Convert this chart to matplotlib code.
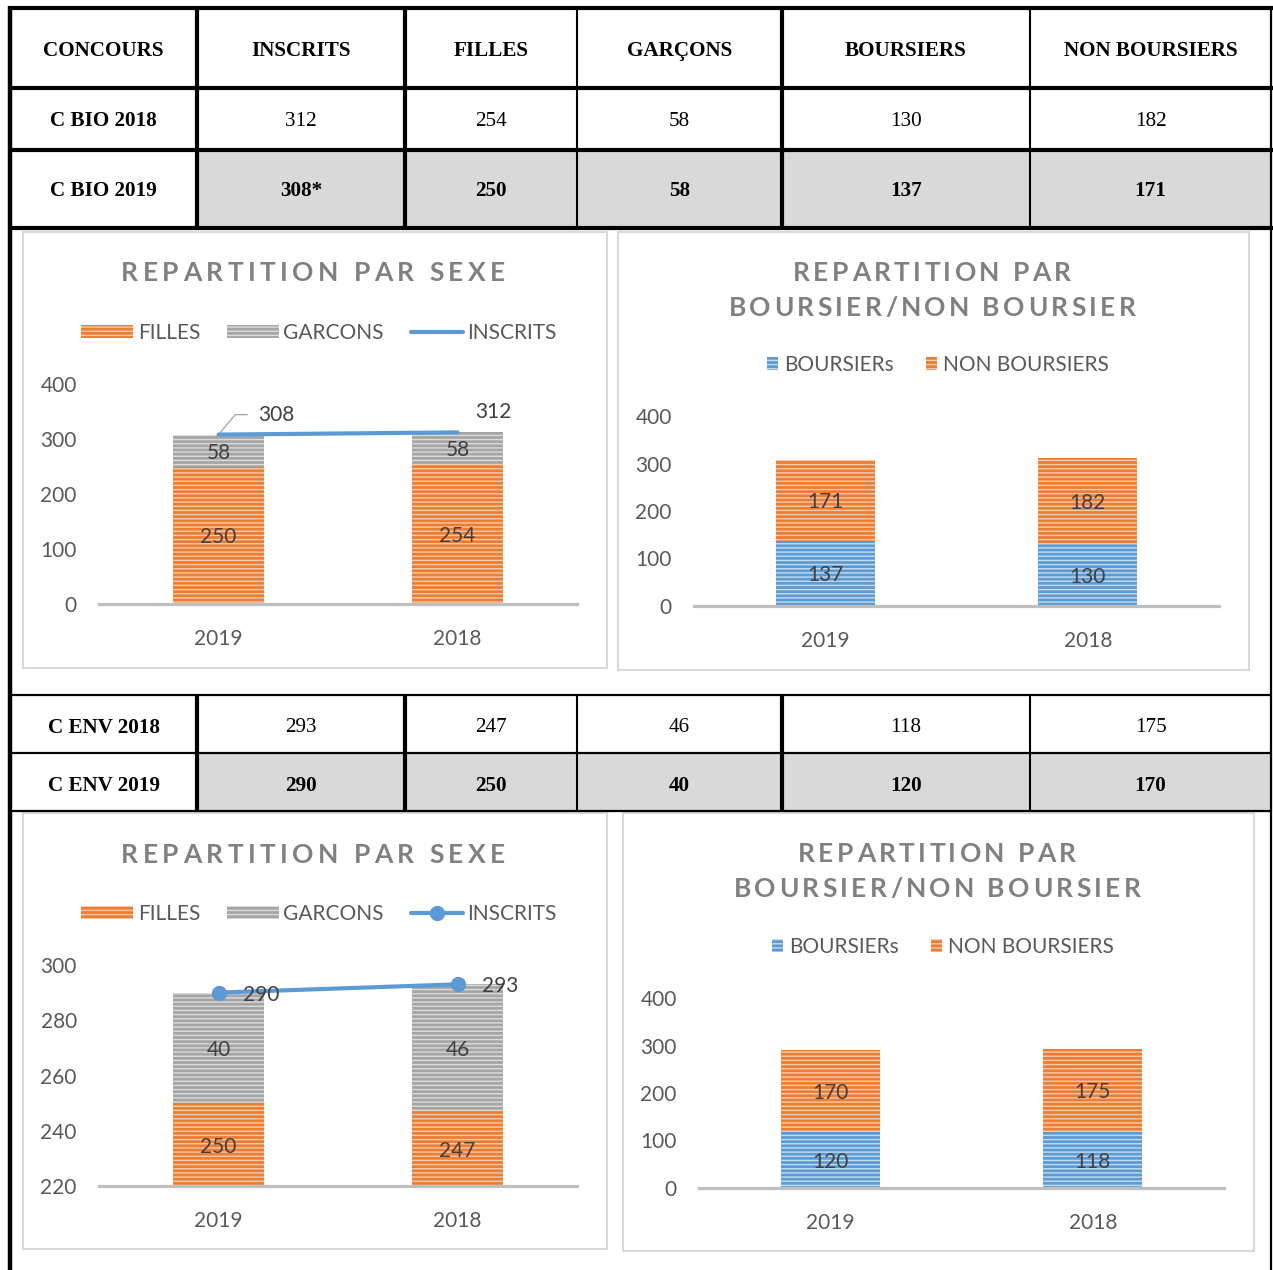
import numpy as np
import matplotlib
matplotlib.use("Agg")
import matplotlib.pyplot as plt
from matplotlib.patches import Rectangle

# ---- data ----
annees = ["2019", "2018"]

bio_inscrits = [308, 312]
bio_filles = [250, 254]
bio_garcons = [58, 58]
bio_boursiers = [137, 130]
bio_non_boursiers = [171, 182]

env_inscrits = [290, 293]
env_filles = [250, 247]
env_garcons = [40, 46]
env_boursiers = [120, 118]
env_non_boursiers = [170, 175]

entetes = ["CONCOURS", "INSCRITS", "FILLES", "GARÇONS", "BOURSIERS", "NON BOURSIERS"]
legende_sexe = ["FILLES", "GARCONS", "INSCRITS"]
legende_bourse = ["BOURSIERs", "NON BOURSIERS"]

# ---- style ----
W, H = 1273, 1270
ORANGE, ORANGE_CL = "#ED7D31", "#F8CBAD"
GRIS, GRIS_CL = "#A5A5A5", "#DCDCDC"
BLEU, BLEU_CL = "#5B9BD5", "#C5DCF0"
TXT, TXT_FONCE, TITRE = "#595959", "#404040", "#808080"
FS = 15
FS_TAB = 15.2
POLICE = ["Lato", "DejaVu Sans"]
SERIF = ["Liberation Serif", "DejaVu Serif"]

plt.rcParams["font.family"] = POLICE
plt.rcParams["hatch.linewidth"] = 1.0

fig = plt.figure(figsize=(W / 100, H / 100), dpi=100)
bg = fig.add_axes([0, 0, 1, 1])
bg.set_xlim(0, W)
bg.set_ylim(H, 0)
bg.axis("off")


def axes_px(gauche, haut, droite, bas):
    return fig.add_axes([gauche / W, 1 - bas / H, (droite - gauche) / W, (bas - haut) / H],
                        facecolor="none")


def trait(x0, y0, x1, y1, lw):
    bg.plot([x0, x1], [y0, y1], color="black", lw=lw, solid_capstyle="butt", zorder=5)


# ---- tables ----
cols = [10, 197, 405, 577, 782, 1030, 1271]
epais = [True, True, True, False, True, False, True]
centres = [(a + b) / 2 for a, b in zip(cols[:-1], cols[1:])]


def ligne_tableau(y, nom, valeurs, gras):
    bg.text(centres[0], y, nom, ha="center", va="center_baseline", family=SERIF,
            fontsize=FS_TAB, fontweight="bold")
    for cx, v in zip(centres[1:], valeurs):
        bg.text(cx, y, v, ha="center", va="center_baseline", family=SERIF, fontsize=FS_TAB,
                fontweight="bold" if gras else "normal")


# BIO table
bg.add_patch(Rectangle((cols[1], 150), cols[-1] - cols[1], 78, color="#D9D9D9", zorder=1))
for y in [8, 88, 150, 228]:
    trait(8, y, W, y, 3.0)
for x, e in zip(cols[1:-1], epais[1:-1]):
    trait(x, 8, x, 228, 3.0 if e else 1.5)
for cx, t in zip(centres, entetes):
    bg.text(cx, 48.5, t, ha="center", va="center_baseline", family=SERIF, fontsize=FS_TAB,
            fontweight="bold")
ligne_tableau(118.5, "C BIO 2018",
              [str(bio_inscrits[1]), str(bio_filles[1]), str(bio_garcons[1]),
               str(bio_boursiers[1]), str(bio_non_boursiers[1])], False)
ligne_tableau(188.5, "C BIO 2019",
              [str(bio_inscrits[0]) + "*", str(bio_filles[0]), str(bio_garcons[0]),
               str(bio_boursiers[0]), str(bio_non_boursiers[0])], True)

# ENV table
bg.add_patch(Rectangle((cols[1], 753), cols[-1] - cols[1], 58, color="#D9D9D9", zorder=1))
for y in [695, 753, 811]:
    trait(10, y, W - 2, y, 1.6)
for x, e in zip(cols[1:-1], epais[1:-1]):
    trait(x, 695, x, 811, 3.0 if e else 1.5)
ligne_tableau(725.5, "C ENV 2018",
              [str(env_inscrits[1]), str(env_filles[1]), str(env_garcons[1]),
               str(env_boursiers[1]), str(env_non_boursiers[1])], False)
ligne_tableau(783.5, "C ENV 2019",
              [str(env_inscrits[0]), str(env_filles[0]), str(env_garcons[0]),
               str(env_boursiers[0]), str(env_non_boursiers[0])], True)

# outer borders
trait(9.5, 6, 9.5, H, 3.2)
trait(1271, 6, 1271, H, 1.6)

# chart frames
for (x0, y0, x1, y1) in [(23, 232, 607, 668), (618, 232, 1249, 670),
                         (23, 813, 607, 1249), (623, 813, 1254, 1251)]:
    bg.add_patch(Rectangle((x0, y0), x1 - x0, y1 - y0, facecolor="white",
                           edgecolor="#D9D9D9", lw=1.5, zorder=2))


def titre_espace(texte, cx, cy, largeur):
    r = fig.canvas.get_renderer()
    style = dict(fontsize=19, fontweight="bold", color=TITRE, va="center_baseline", ha="left")
    larg = []
    for c in texte:
        t = bg.text(0, 0, c if c != " " else "n", **style)
        w = t.get_window_extent(r).width
        larg.append(w * 0.4 if c == " " else w)
        t.remove()
    pas = (largeur - sum(larg)) / (len(texte) - 1)
    x = cx - largeur / 2
    for c, w in zip(texte, larg):
        if c != " ":
            bg.text(x, cy, c, zorder=6, **style)
        x += w + pas


def habiller(ax, ylim, yticks):
    ax.set_xlim(-0.5, 1.5)
    ax.set_ylim(*ylim)
    ax.set_yticks(yticks)
    ax.set_xticks(np.arange(len(annees)), annees)
    for s in ["top", "right", "left"]:
        ax.spines[s].set_visible(False)
    ax.spines["bottom"].set_color("#BFBFBF")
    ax.spines["bottom"].set_linewidth(2.3)
    ax.spines["bottom"].set_zorder(4)
    ax.tick_params(axis="both", length=0, labelsize=FS, labelcolor=TXT)
    ax.tick_params(axis="y", pad=16)
    ax.tick_params(axis="x", pad=18)


def etiquettes(ax, bas, hauts, ymin):
    for i, (b, h) in enumerate(zip(bas, hauts)):
        lo = max(b, ymin)
        ax.text(i, (lo + b + h) / 2, str(h), ha="center", va="center_baseline",
                fontsize=FS, color=TXT_FONCE, zorder=5)


def graphe_sexe(rect, filles, garcons, inscrits, ylim, yticks, marqueur, leg_xy, titre_xy):
    ax = axes_px(*rect)
    x = np.arange(len(annees))
    b1 = ax.bar(x, filles, 0.377, color=ORANGE, edgecolor=ORANGE_CL, hatch="----", lw=0)
    b2 = ax.bar(x, garcons, 0.377, bottom=filles, color=GRIS, edgecolor=GRIS_CL,
                hatch="----", lw=0)
    ln, = ax.plot(x, inscrits, color=BLEU, lw=3, marker=marqueur, ms=10,
                  solid_capstyle="round", zorder=4)
    habiller(ax, ylim, yticks)
    etiquettes(ax, [0, 0], filles, ylim[0])
    etiquettes(ax, filles, garcons, ylim[0])
    ax.legend([b1, b2, ln], legende_sexe, loc="center", bbox_to_anchor=leg_xy,
              bbox_transform=bg.transData, ncol=3, frameon=False, fontsize=FS,
              labelcolor=TXT, handlelength=2.5, handleheight=0.55,
              handletextpad=0.2, columnspacing=1.3)
    titre_espace("REPARTITION PAR SEXE", titre_xy[0], titre_xy[1], 384)
    return ax


def graphe_bourse(rect, boursiers, non_boursiers, leg_xy, titre_xy):
    ax = axes_px(*rect)
    x = np.arange(len(annees))
    b1 = ax.bar(x, boursiers, 0.377, color=BLEU, edgecolor=BLEU_CL, hatch="----", lw=0)
    b2 = ax.bar(x, non_boursiers, 0.377, bottom=boursiers, color=ORANGE,
                edgecolor=ORANGE_CL, hatch="----", lw=0)
    habiller(ax, (0, 400), [0, 100, 200, 300, 400])
    etiquettes(ax, [0, 0], boursiers, 0)
    etiquettes(ax, boursiers, non_boursiers, 0)
    ax.legend([b1, b2], legende_bourse, loc="center", bbox_to_anchor=leg_xy,
              bbox_transform=bg.transData, ncol=2, frameon=False, fontsize=FS,
              labelcolor=TXT, handlelength=0.55, handleheight=0.55,
              handletextpad=0.3, columnspacing=1.5)
    titre_espace("REPARTITION PAR", titre_xy[0], titre_xy[1], 278)
    titre_espace("BOURSIER/NON BOURSIER", titre_xy[0], titre_xy[1] + 35, 407)
    return ax


# BIO charts
ax1 = graphe_sexe((99, 384, 577, 604), bio_filles, bio_garcons, bio_inscrits,
                  (0, 400), [0, 100, 200, 300, 400], None, (319, 333), (313, 271))
ax1.annotate(str(bio_inscrits[0]), xy=(0, bio_inscrits[0]), xytext=(58, 22),
             textcoords="offset pixels", ha="center", va="center_baseline", fontsize=FS,
             color=TXT_FONCE,
             arrowprops=dict(arrowstyle="-", color="#A6A6A6", lw=1.0, relpos=(0, 0.5),
                             shrinkA=6, shrinkB=2,
                             connectionstyle="angle,angleA=180,angleB=50,rad=0"))
ax1.annotate(str(bio_inscrits[1]), xy=(1, bio_inscrits[1]), xytext=(36, 22),
             textcoords="offset pixels", ha="center", va="center_baseline", fontsize=FS,
             color=TXT_FONCE)
graphe_bourse((694, 416, 1219, 606), bio_boursiers, bio_non_boursiers, (938, 365), (932, 271))

# ENV charts
ax3 = graphe_sexe((99, 965, 577, 1186), env_filles, env_garcons, env_inscrits,
                  (220, 300), [220, 240, 260, 280, 300], "o", (319, 914), (313, 853))
for i, v in enumerate(env_inscrits):
    ax3.annotate(str(v), xy=(i, v), xytext=(43, 0), textcoords="offset pixels",
                 ha="center", va="center_baseline", fontsize=FS, color=TXT_FONCE, zorder=6)
graphe_bourse((699, 998, 1224, 1188), env_boursiers, env_non_boursiers, (943, 947), (937, 852))

fig.savefig("out.png", dpi=100)
